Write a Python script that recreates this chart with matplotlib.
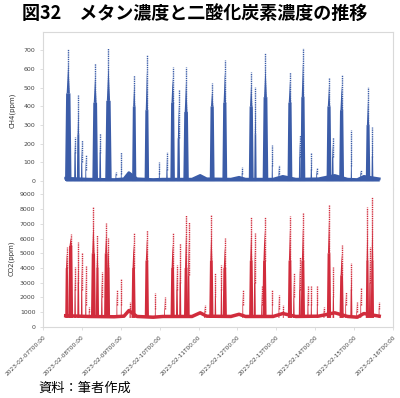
import matplotlib.pyplot as plt

plt.rcParams['font.family'] = ['Noto Sans CJK JP', 'DejaVu Sans']

# hours since 2023-02-07 00:00
xticks = [0, 24, 48, 72, 96, 120, 144, 168, 192, 216]
xlabels = ['2023-02-07T00:00', '2023-02-08T00:00', '2023-02-09T00:00',
           '2023-02-10T00:00', '2023-02-11T00:00', '2023-02-12T00:00',
           '2023-02-13T00:00', '2023-02-14T00:00', '2023-02-15T00:00',
           '2023-02-16T00:00']

# CH4 peaks: time (h), max value, dense level, duration (h)
ch4_t = [15.6, 19.8, 21.8, 23.9, 26.4, 32.2, 35.3, 40.4, 45.0, 48.3, 56.3, 64.1,
         71.8, 76.5, 80.0, 83.7, 88.3, 104.4, 112.2, 122.9, 128.5, 131.1, 137.3,
         141.5, 145.6, 152.4, 158.5, 160.4, 165.6, 168.9, 176.5, 178.8, 184.3,
         190.3, 196.1, 200.6, 203.3]
ch4_max = [707, 236, 460, 220, 140, 633, 257, 713, 50, 155, 570, 676,
           100, 155, 613, 488, 613, 525, 650, 75, 587, 505, 687,
           193, 86, 587, 247, 713, 150, 70, 553, 236, 569,
           274, 60, 506, 291]
ch4_core = [470, 150, 250, 100, 60, 420, 150, 430, 30, 40, 400, 380,
            40, 60, 420, 230, 370, 400, 420, 40, 400, 250, 450,
            80, 40, 420, 130, 450, 60, 40, 400, 130, 380,
            80, 40, 300, 130]
ch4_dur = [4.0, 1.2, 1.8, 1.0, 0.7, 3.5, 1.2, 4.0, 0.7, 0.6, 2.6, 2.8,
           0.7, 1.0, 2.8, 1.8, 3.4, 3.0, 3.0, 0.7, 3.0, 1.5, 3.5,
           0.8, 0.7, 3.0, 1.2, 3.0, 1.0, 0.7, 3.0, 1.2, 3.0,
           0.8, 0.7, 2.8, 1.2]
ch4_base_h = [14, 28, 44, 50, 53, 58, 68, 74, 92, 97, 101, 116, 121, 125,
              142, 148, 156, 170, 180, 188, 194, 198, 207.5]
ch4_base_v = [15, 10, 8, 12, 45, 12, 8, 10, 10, 30, 12, 10, 20, 10,
              10, 25, 10, 12, 30, 10, 8, 25, 12]

# CO2 peaks
co2_t = [14.7, 17.1, 19.8, 21.8, 23.9, 26.4, 28.5, 31.1, 33.6, 36.3, 39.0, 40.4,
         45.6, 48.3, 53.8, 55.9, 64.1, 69.3, 75.0, 80.0, 82.7, 84.7, 88.3, 89.9,
         99.8, 103.9, 106.4, 110.1, 112.2, 123.3, 128.5, 130.7, 134.9, 136.7,
         141.5, 145.6, 148.3, 152.4, 154.8, 158.5, 160.4, 163.5, 165.6, 169.3,
         173.4, 176.5, 179.2, 184.3, 186.8, 190.3, 193.6, 196.1, 200.2, 201.8,
         203.3, 207.4]
co2_max = [5440, 6285, 4080, 5780, 5010, 4130, 1360, 8120, 6240, 3740, 7030, 6030,
           2500, 3220, 1700, 6400, 6580, 2290, 2040, 6400, 4200, 5670, 7600, 7140,
           1500, 7600, 3630, 4200, 6010, 2500, 7480, 6350, 2790, 7480,
           2500, 2150, 1500, 7530, 3630, 4760, 7710, 2790, 2790, 2790,
           1360, 8280, 4080, 5560, 2380, 4310, 1690, 2610, 8120, 5440,
           8840, 1690]
co2_core = [4000, 5500, 2500, 3000, 2500, 1500, 1000, 5000, 4000, 2000, 5000, 4000,
            1500, 1500, 1200, 4000, 4500, 1200, 1200, 4000, 2500, 3000, 4000, 3500,
            1000, 4500, 2000, 2500, 4000, 1500, 4500, 3000, 1500, 4500,
            1500, 1200, 1000, 4500, 2000, 2500, 4500, 1500, 1500, 1500,
            1000, 5000, 2000, 3500, 1500, 2500, 1000, 1500, 4500, 3000,
            4500, 1200]
co2_dur = [2.0, 3.0, 1.0, 1.3, 1.0, 0.8, 0.6, 3.0, 2.0, 1.0, 2.6, 2.0,
           0.6, 0.6, 0.8, 2.6, 2.6, 0.6, 0.6, 2.6, 1.3, 1.3, 2.6, 1.3,
           0.6, 2.6, 1.0, 1.0, 2.6, 0.6, 2.6, 1.3, 0.6, 2.6,
           0.6, 0.6, 0.6, 2.6, 1.0, 1.3, 2.6, 0.8, 0.8, 0.8,
           0.6, 2.6, 1.0, 2.6, 0.6, 1.3, 0.6, 0.6, 2.0, 1.3,
           2.0, 0.6]
co2_base_h = [14, 28, 44, 50, 53, 58, 68, 74, 92, 97, 101, 116, 121, 125,
              142, 148, 156, 170, 180, 188, 194, 198, 207.5]
co2_base_v = [750, 700, 680, 720, 1100, 700, 650, 700, 700, 950, 720, 700, 850, 700,
              700, 900, 700, 720, 950, 700, 650, 900, 720]

blue = '#3b5ca8'
red = '#d12c3c'
frame = '#d9d9d9'


def draw_peaks(ax, t, vmax, core, dur, base, color):
    for ti, top, c, d in zip(t, vmax, core, dur):
        # dense body of the peak
        ax.fill([ti - d / 2, ti - d / 3, ti + d / 3, ti + d / 2],
                [base, c, c, base], color=color, lw=0)
        # narrower upper part
        ax.fill([ti - d / 4, ti, ti + d / 4],
                [c, c + (top - c) * 0.7, c], color=color, lw=0)
        ax.vlines(ti, c, top, color=color, lw=1.0, linestyles=(0, (1, 0.6)))


fig = plt.figure(figsize=(4, 3.98), dpi=100)
ax1 = fig.add_axes([0.1075, 0.525, 0.875, 0.395])
ax2 = fig.add_axes([0.1075, 0.179, 0.875, 0.346], sharex=ax1)

draw_peaks(ax1, ch4_t, ch4_max, ch4_core, ch4_dur, 0, blue)
ax1.fill_between(ch4_base_h, 0, ch4_base_v, color=blue, lw=0)
ax1.plot(ch4_base_h, ch4_base_v, color=blue, lw=2.0)

draw_peaks(ax2, co2_t, co2_max, co2_core, co2_dur, 600, red)
ax2.plot(co2_base_h, co2_base_v, color=red, lw=2.5)

ax1.set_ylim(-43, 800)
ax1.set_yticks([0, 100, 200, 300, 400, 500, 600, 700])
ax2.set_ylim(0, 9370)
ax2.set_yticks([0, 1000, 2000, 3000, 4000, 5000, 6000, 7000, 8000, 9000])
ax2.set_xlim(0, 216)
ax2.set_xticks(xticks)
ax2.set_xticklabels(xlabels, rotation=45, ha='right', va='top',
                    rotation_mode='anchor', fontsize=4.2, color='#444444',
                    family='DejaVu Sans')
plt.setp(ax1.get_xticklabels(), visible=False)

ax1.set_ylabel('CH4(ppm)', fontsize=5, color='#333333', labelpad=6,
               family='DejaVu Sans')
ax2.set_ylabel('CO2(ppm)', fontsize=5, color='#333333', labelpad=4,
               family='DejaVu Sans')

for ax in (ax1, ax2):
    ax.tick_params(axis='y', labelsize=4.5, labelcolor='#444444', length=2,
                   color=frame, width=0.6)
    ax.tick_params(axis='x', length=2, color=frame, width=0.6)
    for s in ax.spines.values():
        s.set_color(frame)
        s.set_linewidth(0.8)
    for lab in ax.get_yticklabels():
        lab.set_family('DejaVu Sans')
ax1.spines['bottom'].set_visible(False)
ax2.spines['top'].set_visible(False)
ax1.tick_params(axis='x', length=0)

fig.text(0.055, 0.966, '図32　メタン濃度と二酸化炭素濃度の推移',
         fontsize=13, fontweight='bold', ha='left', va='center')
fig.text(0.095, 0.025, '資料：筆者作成', fontsize=9.5, ha='left', va='center')

fig.savefig('out.png', dpi=100)
